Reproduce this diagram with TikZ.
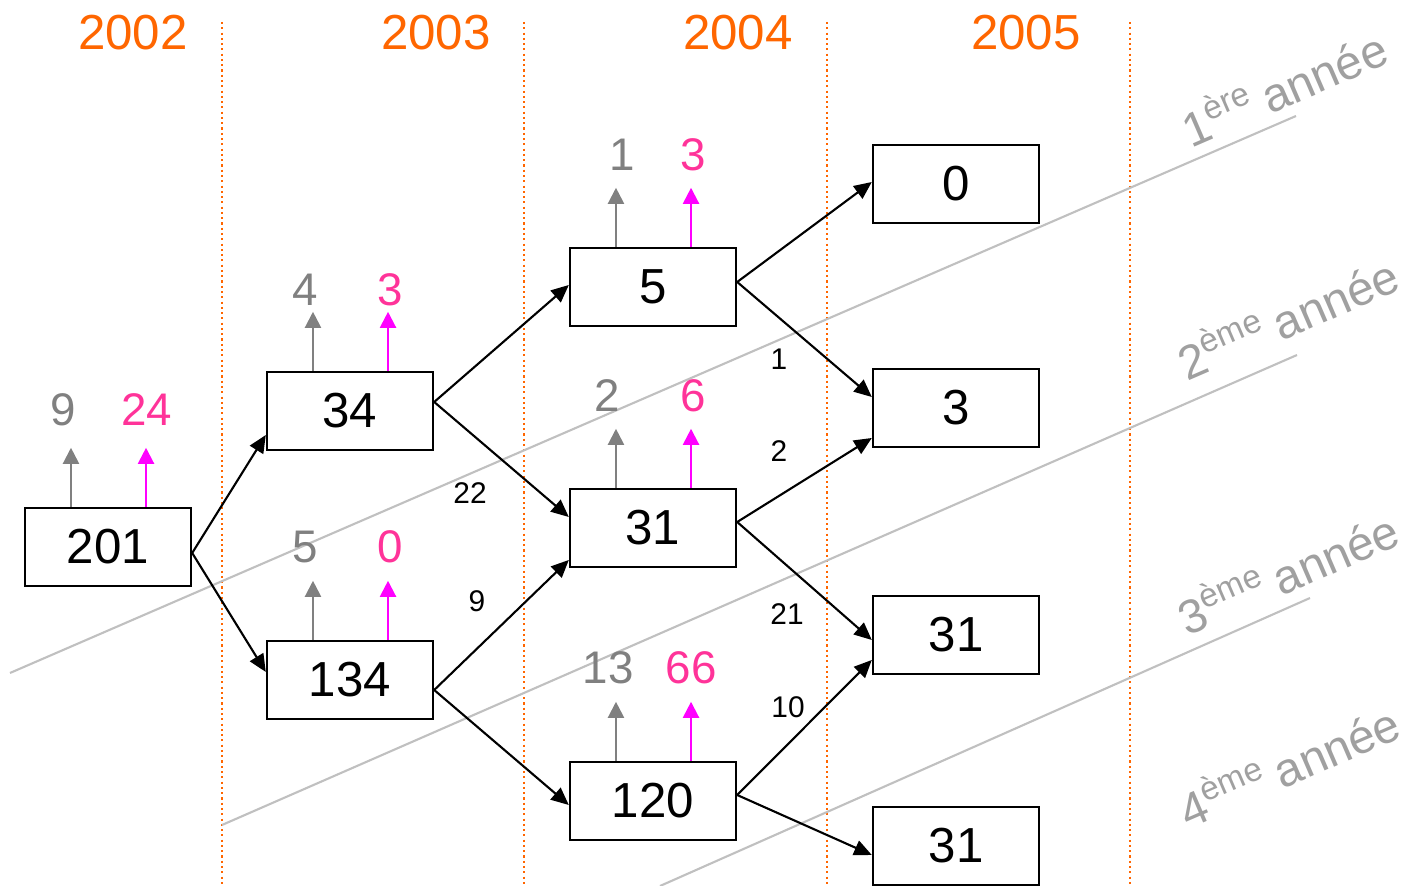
\documentclass[tikz,border=0pt]{standalone}
\usepackage{fontspec}
\setmainfont{Liberation Sans}
\usepackage{tikz}
\usetikzlibrary{arrows.meta,calc}
\usepackage{xcolor}
\definecolor{yorange}{RGB}{255,102,0}
\definecolor{dgray}{RGB}{128,128,128}
\definecolor{mpink}{RGB}{255,51,153}
\definecolor{mmag}{RGB}{255,0,255}
\definecolor{ldiag}{RGB}{192,192,192}
\definecolor{lyear}{RGB}{160,160,160}

\begin{document}
\begin{tikzpicture}[x=0.01cm, y=-0.01cm,
    box/.style={draw, line width=0.65pt, minimum width=1.66cm, minimum height=0.78cm,
      inner sep=0pt, font=\fontsize{14}{16}\selectfont},
    flow/.style={line width=0.6pt, -{Triangle[length=5pt, width=4.4pt]}},
    gone/.style={dgray, line width=0.6pt, -{Triangle[length=4.6pt, width=4.6pt]}},
    pout/.style={mmag, line width=0.6pt, -{Triangle[length=4.6pt, width=4.6pt]}},
    glab/.style={dgray, font=\fontsize{13}{15}\selectfont},
    plab/.style={mpink, font=\fontsize{13}{15}\selectfont},
    elab/.style={font=\fontsize{8.5}{10}\selectfont},
    yearlab/.style={yorange, font=\fontsize{14}{16}\selectfont},
    anlab/.style={lyear, rotate=23.4, font=\fontsize{13.5}{15}\selectfont}]
  \useasboundingbox (0,0) rectangle (1406,886);

  % year columns
  \draw[yorange, line width=0.6pt, dash pattern=on 0.6pt off 0.9pt] (222,22) -- (222,886);
  \draw[yorange, line width=0.6pt, dash pattern=on 0.6pt off 0.9pt] (524,22) -- (524,886);
  \draw[yorange, line width=0.6pt, dash pattern=on 0.6pt off 0.9pt] (827,22) -- (827,886);
  \draw[yorange, line width=0.6pt, dash pattern=on 0.6pt off 0.9pt] (1130,22) -- (1130,886);
  \node[yearlab] (y2002) at (133,33) {2002};
  \node[yearlab] (y2003) at (436,33) {2003};
  \node[yearlab] (y2004) at (738,33) {2004};
  \node[yearlab] (y2005) at (1026,33) {2005};

  % cohort separators
  \draw[ldiag, line width=0.6pt] (10,673) -- (1296,116);
  \draw[ldiag, line width=0.6pt] (222,825) -- (1297,355);
  \draw[ldiag, line width=0.6pt] (660,886) -- (1310,598);
  \node[anlab] (an1) at (1283,86) {1\textsuperscript{ère}\hspace{0.2em}année};
  \node[anlab] (an2) at (1287,316) {2\textsuperscript{ème}\hspace{0.2em}année};
  \node[anlab] (an3) at (1287,571) {3\textsuperscript{ème}\hspace{0.2em}année};
  \node[anlab] (an4) at (1288,764) {4\textsuperscript{ème}\hspace{0.2em}année};

  % boxes
  \node[box] (n201) at (108,547) {201};
  \node[box] (n34) at (350,411) {34};
  \node[box] (n134) at (350,680) {134};
  \node[box] (n5) at (653,287) {5};
  \node[box] (n31) at (653,528) {31};
  \node[box] (n120) at (653,801) {120};
  \node[box] (n0) at (956,184) {0};
  \node[box] (n3) at (956,408) {3};
  \node[box] (n31a) at (956,635) {31};
  \node[box] (n31b) at (956,846) {31};

  % leaving arrows
  \draw[gone] ([xshift=-0.37cm]n201.north) -- ([xshift=-0.37cm,yshift=0.59cm]n201.north);
  \draw[pout] ([xshift=0.38cm]n201.north) -- ([xshift=0.38cm,yshift=0.59cm]n201.north);
  \draw[gone] ([xshift=-0.37cm]n34.north) -- ([xshift=-0.37cm,yshift=0.59cm]n34.north);
  \draw[pout] ([xshift=0.38cm]n34.north) -- ([xshift=0.38cm,yshift=0.59cm]n34.north);
  \draw[gone] ([xshift=-0.37cm]n134.north) -- ([xshift=-0.37cm,yshift=0.59cm]n134.north);
  \draw[pout] ([xshift=0.38cm]n134.north) -- ([xshift=0.38cm,yshift=0.59cm]n134.north);
  \draw[gone] ([xshift=-0.37cm]n5.north) -- ([xshift=-0.37cm,yshift=0.59cm]n5.north);
  \draw[pout] ([xshift=0.38cm]n5.north) -- ([xshift=0.38cm,yshift=0.59cm]n5.north);
  \draw[gone] ([xshift=-0.37cm]n31.north) -- ([xshift=-0.37cm,yshift=0.59cm]n31.north);
  \draw[pout] ([xshift=0.38cm]n31.north) -- ([xshift=0.38cm,yshift=0.59cm]n31.north);
  \draw[gone] ([xshift=-0.37cm]n120.north) -- ([xshift=-0.37cm,yshift=0.59cm]n120.north);
  \draw[pout] ([xshift=0.38cm]n120.north) -- ([xshift=0.38cm,yshift=0.59cm]n120.north);

  \node[glab] (g201) at (63,410) {9};
  \node[plab] (p201) at (147,410) {24};
  \node[glab] (g34) at (305,290) {4};
  \node[plab] (p34) at (390,290) {3};
  \node[glab] (g134) at (305,547) {5};
  \node[plab] (p134) at (390,547) {0};
  \node[glab] (g5) at (622,155) {1};
  \node[plab] (p5) at (693,155) {3};
  \node[glab] (g31) at (607,396) {2};
  \node[plab] (p31) at (693,396) {6};
  \node[glab] (g120) at (608,668) {13};
  \node[plab] (p120) at (691,668) {66};

  % transitions
  \draw[flow] ($(n201.east)+(0,6)$) -- ($(n34.west)+(0,24)$);
  \draw[flow] ($(n201.east)+(0,6)$) -- ($(n134.west)+(0,-8)$);
  \draw[flow] ($(n34.east)+(0,-9)$) -- ($(n5.west)+(0,-2)$);
  \draw[flow] ($(n34.east)+(0,-9)$) -- ($(n31.west)+(0,-11)$);
  \draw[flow] ($(n134.east)+(0,10)$) -- ($(n31.west)+(0,32)$);
  \draw[flow] ($(n134.east)+(0,10)$) -- ($(n120.west)+(0,4)$);
  \draw[flow] ($(n5.east)+(0,-5)$) -- ($(n0.west)+(0,-2)$);
  \draw[flow] ($(n5.east)+(0,-5)$) -- ($(n3.west)+(0,-11)$);
  \draw[flow] ($(n31.east)+(0,-6)$) -- ($(n3.west)+(0,30)$);
  \draw[flow] ($(n31.east)+(0,-6)$) -- ($(n31a.west)+(0,5)$);
  \draw[flow] ($(n120.east)+(0,-6)$) -- ($(n31a.west)+(0,25)$);
  \draw[flow] ($(n120.east)+(0,-6)$) -- ($(n31b.west)+(0,9)$);

  \node[elab] (e22) at (470,493) {22};
  \node[elab] (e9) at (477,601) {9};
  \node[elab] (e1) at (779,359) {1};
  \node[elab] (e2) at (779,451) {2};
  \node[elab] (e21) at (787,614) {21};
  \node[elab] (e10) at (788,707) {10};
\end{tikzpicture}
\end{document}
